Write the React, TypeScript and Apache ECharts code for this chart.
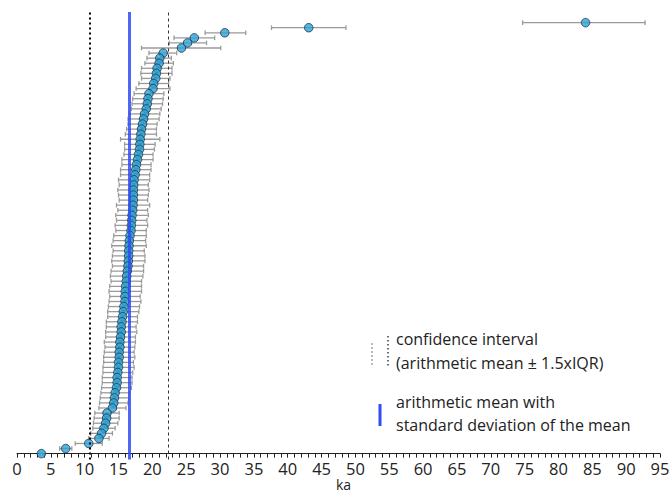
import React, { useEffect, useRef } from "react";
import * as echarts from "echarts";

// values listed from the top row of the chart down to the bottom row
const ages = [
  84, 43.1, 30.7, 26.2, 25.2, 24.3, 21.6, 21.1, 21.0, 20.7,
  20.6, 20.5, 20.2, 20.1, 19.5, 19.35, 19.25, 19.1, 18.85, 18.7,
  18.55, 18.4, 18.3, 18.2, 18.15, 18.1, 17.95, 17.8, 17.65, 17.55,
  17.45, 17.3, 17.25, 17.2, 17.2, 17.2, 17.15, 17.1, 17.0, 16.95,
  16.9, 16.85, 16.7, 16.6, 16.55, 16.5, 16.5, 16.45, 16.4, 16.3,
  16.2, 16.15, 16.05, 16.0, 15.95, 15.95, 15.8, 15.7, 15.6, 15.5,
  15.4, 15.4, 15.3, 15.2, 15.2, 15.1, 15.1, 15.0, 15.0, 14.9,
  14.8, 14.8, 14.7, 14.5, 14.4, 14.3, 14.1, 13.3, 13.25, 13.1,
  12.85, 12.5, 12.1, 10.6, 7.2, 3.6,
];
const lows = [
  74.7, 37.6, 27.8, 23.2, 22.5, 18.4, 19.5, 19.2, 18.9, 18.4,
  18.3, 18.4, 18.0, 17.6, 17.3, 17.1, 17.0, 16.9, 16.6, 16.4,
  16.4, 16.2, 16.0, 15.3, 15.9, 15.9, 15.8, 15.5, 15.5, 15.3,
  15.3, 15.0, 15.1, 14.9, 15.0, 15.1, 14.7, 14.9, 14.6, 14.7,
  14.5, 14.6, 14.3, 14.2, 14.0, 14.2, 14.1, 14.0, 14.1, 13.9,
  13.8, 13.9, 13.7, 13.6, 13.7, 13.6, 13.5, 13.4, 13.4, 13.2,
  13.2, 13.1, 13.1, 12.9, 13.0, 12.9, 12.8, 12.8, 12.7, 12.7,
  12.6, 12.6, 12.5, 12.4, 12.3, 12.2, 12.1, 11.5, 11.4, 11.3,
  11.2, 10.9, 10.6, 8.6, 6.3, 3.4,
];
const highs = [
  92.8, 48.6, 33.8, 29.2, 28.0, 30.1, 23.6, 22.8, 23.1, 22.9,
  22.9, 22.6, 22.4, 22.6, 21.7, 21.6, 21.5, 21.3, 21.1, 21.0,
  20.7, 20.6, 20.6, 21.1, 20.4, 20.3, 20.1, 20.1, 19.8, 19.8,
  19.6, 19.6, 19.4, 19.5, 19.4, 19.3, 19.6, 19.3, 19.4, 19.2,
  19.3, 19.1, 19.1, 19.0, 19.1, 18.8, 18.9, 18.9, 18.7, 18.7,
  18.6, 18.4, 18.4, 18.4, 18.2, 18.3, 18.1, 18.0, 17.8, 17.8,
  17.6, 17.7, 17.5, 17.5, 17.4, 17.3, 17.4, 17.2, 17.3, 17.1,
  17.0, 17.0, 16.9, 16.6, 16.5, 16.4, 16.1, 15.1, 15.1, 14.9,
  14.5, 14.1, 13.6, 12.6, 8.1, 3.8,
];
const meanValue = 16.6;
const ciLow = 10.8;
const ciHigh = 22.4;
const legendTexts = [
  "confidence interval",
  "(arithmetic mean ± 1.5xIQR)",
  "arithmetic mean with",
  "standard deviation of the mean",
];
const xAxisName = "ka";

export default function App() {
  const ref = useRef<HTMLDivElement>(null);
  useEffect(() => {
    if (!ref.current) return;
    const chart = echarts.init(ref.current, undefined, { renderer: "svg" });
    const n = ages.length;
    const points = ages.map((v, i) => [v, n - 1 - i]);
    const bars = ages.map((_, i) => [n - 1 - i, lows[i], highs[i]]);
    const font = "'Open Sans', sans-serif";
    chart.setOption({
      animation: false,
      grid: { left: 17, right: 10, top: 12, bottom: 32.5, outerBoundsMode: "none", containLabel: false },
      xAxis: {
        type: "value",
        min: 0,
        max: 95,
        interval: 5,
        name: xAxisName,
        nameLocation: "middle",
        nameGap: 17.5,
        nameMoveOverlap: false,
        nameTextStyle: { fontFamily: font, fontSize: 14, lineHeight: 14, color: "#222", padding: [0, 0, 0, 10] },
        axisLine: { show: true, lineStyle: { color: "#222", width: 1 } },
        axisTick: { show: true, inside: false, length: 4, lineStyle: { color: "#222" } },
        minorTick: { show: true, splitNumber: 5, length: 4, lineStyle: { color: "#222" } },
        axisLabel: { fontFamily: font, fontSize: 16.5, lineHeight: 16, color: "#222", margin: 1 },
        splitLine: { show: false },
      },
      yAxis: {
        type: "value",
        min: -1.16,
        max: 87.1,
        show: false,
        splitLine: { show: false },
      },
      series: [
        {
          type: "custom",
          z: 2,
          data: bars,
          renderItem: (params: any, api: any) => {
            const y = api.value(0);
            const a = api.coord([api.value(1), y]);
            const b = api.coord([api.value(2), y]);
            const h = 2.3;
            const st = { stroke: "#9a9a9a", lineWidth: 1.3 };
            return {
              type: "group",
              children: [
                { type: "line", shape: { x1: a[0], y1: a[1], x2: b[0], y2: b[1] }, style: st },
                { type: "line", shape: { x1: a[0], y1: a[1] - h, x2: a[0], y2: a[1] + h }, style: st },
                { type: "line", shape: { x1: b[0], y1: b[1] - h, x2: b[0], y2: b[1] + h }, style: st },
              ],
            };
          },
          encode: { x: [1, 2], y: 0 },
        },
        {
          type: "scatter",
          z: 3,
          data: points,
          symbol: "circle",
          symbolSize: 8.5,
          itemStyle: { color: "#2ba3d6", borderColor: "#1c2f45", borderWidth: 1 },
        },
        {
          type: "scatter",
          z: 1,
          data: [],
          markLine: {
            silent: true,
            symbol: "none",
            label: { show: false },
            data: [
              { xAxis: ciLow, lineStyle: { type: [2, 3], width: 2, color: "#000" } },
              { xAxis: ciHigh, lineStyle: { type: [3, 3], width: 1, color: "#333" } },
            ],
          },
        },
        {
          type: "scatter",
          z: 4,
          data: [],
          markLine: {
            silent: true,
            symbol: "none",
            label: { show: false },
            data: [{ xAxis: meanValue, lineStyle: { type: "solid", width: 3, color: "#2f4cf5", opacity: 0.85 } }],
          },
        },
      ],
      graphic: [
        { type: "line", shape: { x1: 372, y1: 343, x2: 372, y2: 367 }, style: { stroke: "#777", lineWidth: 1, lineDash: [2, 2] } },
        { type: "line", shape: { x1: 388, y1: 336, x2: 388, y2: 367 }, style: { stroke: "#222", lineWidth: 1.3, lineDash: [1.5, 2.5] } },
        { type: "line", shape: { x1: 380, y1: 404, x2: 380, y2: 426 }, style: { stroke: "#2f4cf5", lineWidth: 3 } },
        { type: "text", x: 396, y: 339, style: { text: legendTexts[0], font: `16px ${font}`, fill: "#222", verticalAlign: "middle" } },
        { type: "text", x: 396, y: 363, style: { text: legendTexts[1], font: `16px ${font}`, fill: "#222", verticalAlign: "middle" } },
        { type: "text", x: 396, y: 401.5, style: { text: legendTexts[2], font: `16px ${font}`, fill: "#222", verticalAlign: "middle" } },
        { type: "text", x: 396, y: 425, style: { text: legendTexts[3], font: `16px ${font}`, fill: "#222", verticalAlign: "middle" } },
      ],
    });
    return () => chart.dispose();
  }, []);
  return <div ref={ref} style={{ width: 670, height: 492, position: "absolute", left: 0, top: 0 }} />;
}
